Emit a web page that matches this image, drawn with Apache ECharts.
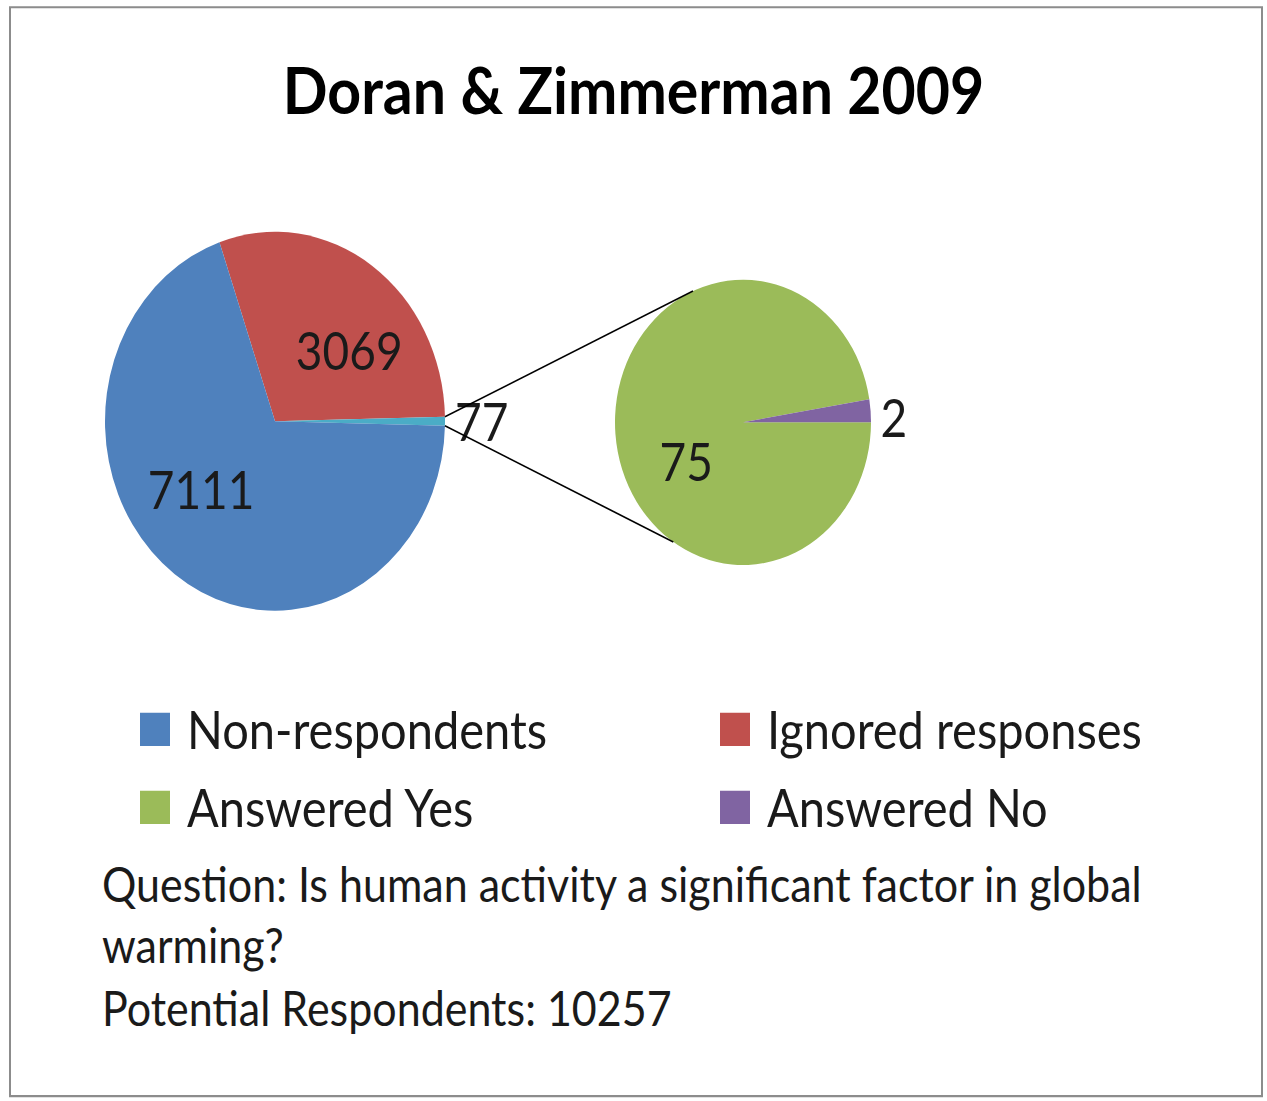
<!DOCTYPE html>
<html>
<head>
<meta charset="utf-8">
<script src="https://cdn.jsdelivr.net/npm/echarts@6/dist/echarts.min.js"></script>
<style>
html, body { margin: 0; padding: 0; background: #fff; }
#wrap { width: 1267px; height: 1101px; position: relative; overflow: hidden; }
/* the original picture is stretched vertically, so draw flat and stretch */
#main { position: absolute; left: 0; top: 0; width: 1267px; height: 988px; transform: scaleY(1.1144); transform-origin: 0 0; }
</style>
</head>
<body>
<div id="wrap"><div id="main"></div></div>
<script>
// data
const outerNames = ['Ignored responses', 'Other', 'Non-respondents'];
const outerValues = [3069, 77, 7111];
const innerNames = ['Answered Yes', 'Answered No'];
const innerValues = [75, 2];
const legendNames = ['Non-respondents', 'Ignored responses', 'Answered Yes', 'Answered No'];
const titleText = 'Doran & Zimmerman 2009';
const questionLines = ['Question: Is human activity a significant factor in global', 'warming?'];

// styles
const colorOf = {
  'Non-respondents': '#4F81BD',
  'Ignored responses': '#C0504D',
  'Other': '#4BACC6',
  'Answered Yes': '#9BBB59',
  'Answered No': '#8064A2'
};
const labelShift = {
  'Ignored responses': [24, 8],
  'Non-respondents': [-22, -10],
  'Other': [0, 0],
  'Answered Yes': [10, 29],
  'Answered No': [0, 6]
};
const FONT = 'Lato';
const mainC = [275, 378], mainR = 170;
const subC = [743, 379], subR = 128;

const total = outerValues.reduce((a, b) => a + b, 0);
const otherHalf = outerValues[1] / total * 180;
const mainStart = otherHalf + outerValues[0] / total * 360;

const chart = echarts.init(document.getElementById('main'), null, { renderer: 'svg' });

function pt(c, r, deg) {
  const a = deg * Math.PI / 180;
  return [c[0] + r * Math.cos(a), c[1] - r * Math.sin(a)];
}
const up0 = pt(mainC, mainR, otherHalf), up1 = pt(subC, subR, 113);
const lo0 = pt(mainC, mainR, -otherHalf), lo1 = pt(subC, subR, -123);

const labelBase = { color: '#1a1a1a', fontFamily: FONT, fontSize: 46, formatter: '{c}' };

function legendAt(name, left, top) {
  return {
    data: [name], left: left, top: top, padding: 0,
    icon: 'rect', itemWidth: 30, itemHeight: 30,
    selectedMode: false,
    textStyle: { fontFamily: FONT, fontSize: 47, color: '#1a1a1a', lineHeight: 30, padding: [0, 0, 0, 12] }
  };
}

const option = {
  animation: false,
  backgroundColor: '#fff',
  title: {
    text: titleText, left: 'center', top: 47, padding: [0, 12, 0, 0],
    textStyle: { fontFamily: FONT, fontWeight: 'bold', fontSize: 59, color: '#000', lineHeight: 64 }
  },
  legend: [
    legendAt(legendNames[0], 140, 631),
    legendAt(legendNames[1], 720, 631),
    legendAt(legendNames[2], 140, 701),
    legendAt(legendNames[3], 720, 701)
  ],
  series: [
    {
      type: 'pie',
      center: mainC, radius: mainR,
      startAngle: mainStart, clockwise: true,
      avoidLabelOverlap: false,
      label: Object.assign({ position: 'inside' }, labelBase),
      labelLine: { show: false, length: 5, length2: 0 },
      labelLayout: function (p) {
        const s = labelShift[outerNames[p.dataIndex]];
        return { dx: s[0], dy: s[1] };
      },
      data: outerNames.map((n, i) => ({
        name: n, value: outerValues[i],
        itemStyle: { color: colorOf[n] },
        label: n === 'Other' ? { position: 'outside' } : undefined
      }))
    },
    {
      type: 'pie',
      center: subC, radius: subR,
      startAngle: 0, clockwise: true,
      avoidLabelOverlap: false,
      label: Object.assign({ position: 'inside' }, labelBase),
      labelLine: { show: false, length: 5, length2: 0 },
      labelLayout: function (p) {
        const s = labelShift[innerNames[p.dataIndex]];
        return { dx: s[0], dy: s[1] };
      },
      data: innerNames.map((n, i) => ({
        name: n, value: innerValues[i],
        itemStyle: { color: colorOf[n] },
        label: n === 'Answered No' ? { position: 'outside' } : undefined
      }))
    }
  ],
  graphic: [
    { type: 'rect', shape: { x: 10, y: 6.5, width: 1252, height: 977 }, style: { fill: 'none', stroke: '#8c8c8c', lineWidth: 2 }, silent: true },
    { type: 'line', shape: { x1: up0[0], y1: up0[1], x2: up1[0], y2: up1[1] }, style: { stroke: '#000', lineWidth: 1.5 }, z: 10 },
    { type: 'line', shape: { x1: lo0[0], y1: lo0[1], x2: lo1[0], y2: lo1[1] }, style: { stroke: '#000', lineWidth: 1.5 }, z: 10 },
    { type: 'text', left: 102, top: 771, style: { text: questionLines[0], fontFamily: FONT, fontSize: 43, fill: '#1a1a1a' } },
    { type: 'text', left: 102, top: 826, style: { text: questionLines[1], fontFamily: FONT, fontSize: 43, fill: '#1a1a1a' } },
    { type: 'text', left: 102, top: 883, style: { text: 'Potential Respondents: ' + total, fontFamily: FONT, fontSize: 43, fill: '#1a1a1a' } }
  ]
};

chart.setOption(option);
</script>
</body>
</html>
